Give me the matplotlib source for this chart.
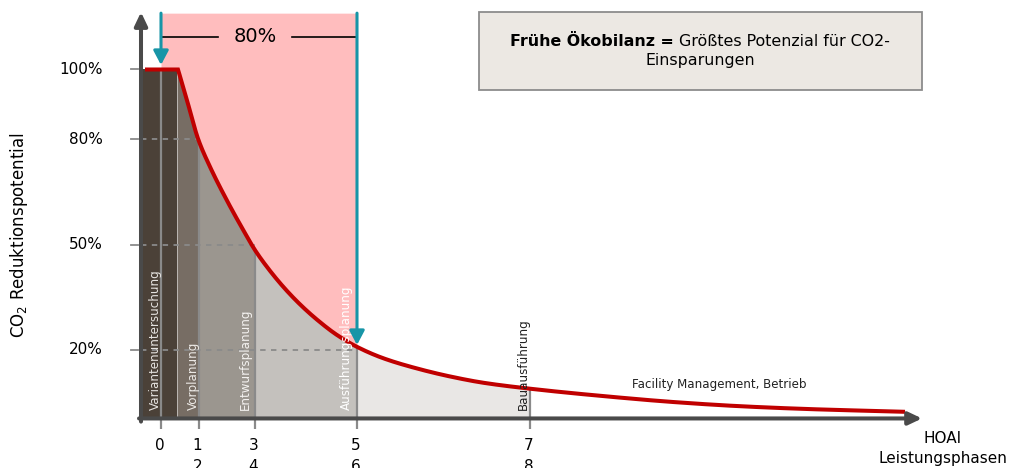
import numpy as np
import matplotlib
matplotlib.use("Agg")
import matplotlib.pyplot as plt
from matplotlib.patches import Rectangle

# Projektverlauf (horizontal) und CO2-Reduktionspotential in Prozent
curve_x = [4, 37, 45.7, 57.3, 69, 85.7, 102.3, 114, 125.7, 142.3, 159, 175.7,
           195.7, 215.7, 242.3, 275.7, 309, 342.3, 389, 465.7, 532, 599, 665.7, 764]
curve_v = [100, 100, 91.5, 80, 72.2, 62.7, 54.1, 48.4, 43.7, 37.9, 32.9, 28.6,
           24.2, 20.8, 17.5, 14.6, 12.3, 10.5, 8.8, 6.6, 5.0, 3.8, 3.0, 2.2]

# HOAI-Leistungsphasen
phase_x = [20, 58, 114, 216, 389]
phase_labels = ["0", "1\n2", "3\n4", "5\n6", "7\n8"]
phase_names = ["Variantenuntersuchung", "Vorplanung", "Entwurfsplanung",
               "Ausführungsplanung", "Bauausführung"]
phase_name_x = [14, 52, 104, 205, 382]
phase_name_colors = ["#e6e3e0", "#ece9e6", "#f4f2f0", "#ffffff", "#222222"]

# Farbige Flächen unter der Kurve
band_edges = [0, 36, 58, 114, 216, 389]
band_colors = ["#4b4138", "#776d64", "#9b968f", "#c4c1bd", "#e9e7e5"]

y_ticks = [100, 80, 50, 20]
y_ticklabels = ["100%", "80%", "50%", "20%"]

span_start, span_end = 20, 216
span_label = "80%"

RED = "#c00000"
TEAL = "#1795a7"
AXIS = "#4a4a4a"
GRID = "#8a8a8a"


def pchip(x, y, xq):
    """Monotone kubische Hermite-Kurve (Fritsch-Carlson) durch die Stützpunkte."""
    x = np.asarray(x, float)
    y = np.asarray(y, float)
    h = np.diff(x)
    d = np.diff(y) / h
    m = np.zeros_like(y)
    for k in range(1, len(x) - 1):
        if d[k - 1] * d[k] > 0:
            w1 = 2 * h[k] + h[k - 1]
            w2 = h[k] + 2 * h[k - 1]
            m[k] = (w1 + w2) / (w1 / d[k - 1] + w2 / d[k])
    m[0] = d[0]
    m[-1] = d[-1]
    xq = np.asarray(xq, float)
    i = np.clip(np.searchsorted(x, xq) - 1, 0, len(x) - 2)
    t = (xq - x[i]) / h[i]
    h00 = (1 + 2 * t) * (1 - t) ** 2
    h10 = t * (1 - t) ** 2
    h01 = t ** 2 * (3 - 2 * t)
    h11 = t ** 2 * (t - 1)
    return h00 * y[i] + h10 * h[i] * m[i] + h01 * y[i + 1] + h11 * h[i] * m[i + 1]


def curve(xq):
    xq = np.asarray(xq, float)
    out = np.full_like(xq, 100.0)
    mask = xq > curve_x[1]
    out[mask] = pchip(curve_x[1:], curve_v[1:], xq[mask])
    return out


fig = plt.figure(figsize=(10.16, 4.68), dpi=100)
ax = fig.add_axes([0, 0, 1, 1])
ax.set_xlim(-141, 875)
ax.set_ylim(-13.857, 119.857)
ax.axis("off")

top = 116.1

# roter Bereich oberhalb der Kurve zwischen Phase 0 und Phase 5/6
xs = np.linspace(span_start, span_end, 400)
ax.fill_between(xs, curve(xs), top, color="#ffbdbe", lw=0, zorder=1)

# Flächen je Leistungsphase
for (x0, x1), col in zip(zip(band_edges[:-1], band_edges[1:]), band_colors):
    xx = np.linspace(x0, x1, 300)
    ax.fill_between(xx, 0, curve(xx), color=col, lw=0, zorder=2)

# gestrichelte Hilfslinien zu den Prozentmarken
for v, px in zip(y_ticks[1:], phase_x[1:4]):
    ax.plot([0, px], [v, v], color=GRID, lw=1.3, ls=(0, (3, 3)), zorder=3)

# vertikale Linien der Leistungsphasen
for i, px in enumerate(phase_x):
    ytop = float(curve([px])[0])
    ax.plot([px, px], [-2.6, ytop], color=GRID, lw=1.6, zorder=3,
            solid_capstyle="butt")

# Phasennamen
for name, nx, col in zip(phase_names, phase_name_x, phase_name_colors):
    ax.text(nx, 2.6, name, rotation=90, ha="center", va="bottom",
            fontsize=8.6, color=col, zorder=6)

# Kurve
xc = np.linspace(curve_x[0], curve_x[-1], 1500)
ax.plot(xc, curve(xc), color=RED, lw=2.9, zorder=5, solid_joinstyle="miter",
        solid_capstyle="butt")

# Pfeile für den 80%-Bereich
arrow_kw = dict(arrowstyle="-|>,head_length=0.85,head_width=0.45",
                color=TEAL, lw=2.2, shrinkA=0, shrinkB=0)
ax.annotate("", xy=(span_start, 101.3), xytext=(span_start, top),
            arrowprops=arrow_kw, zorder=7)
ax.annotate("", xy=(span_end, 21.3), xytext=(span_end, top),
            arrowprops=arrow_kw, zorder=7)
ax.plot([span_start + 1, 77], [109.3, 109.3], color="black", lw=1.2, zorder=6)
ax.plot([151, span_end - 1], [109.3, 109.3], color="black", lw=1.2, zorder=6)
ax.text((span_start + span_end) / 2 - 4, 109.3, span_label, ha="center",
        va="center", fontsize=14, color="black", zorder=6)

# Achsen mit Pfeilspitzen
axis_kw = dict(arrowstyle="-|>,head_length=0.8,head_width=0.38",
               color=AXIS, lw=2.9, shrinkA=0, shrinkB=0)
ax.annotate("", xy=(0, 116.4), xytext=(0, -0.6), arrowprops=axis_kw, zorder=8)
ax.annotate("", xy=(781, 0.3), xytext=(-2, 0.3), arrowprops=axis_kw, zorder=8)

# y-Achsenbeschriftung
for v, lab in zip(y_ticks, y_ticklabels):
    ax.plot([-10, -3], [v, v], color=GRID, lw=1.3, zorder=3)
    ax.text(-38, v, lab, ha="right", va="center", fontsize=11, color="black")
ax.text(-122, 52.7, "CO$_2$ Reduktionspotential", rotation=90, ha="center",
        va="center", fontsize=12, color="black")

# x-Achsenbeschriftung
for px, lab in zip(phase_x, phase_labels):
    ax.text(px - 1.5, -5.3, lab, ha="center", va="top", fontsize=11,
            linespacing=1.5, color="black")
ax.text(802, -3.4, "HOAI\nLeistungsphasen", ha="center", va="top",
        fontsize=11, linespacing=1.4, color="black")

ax.text(491, 10.1, "Facility Management, Betrieb", ha="left", va="center",
        fontsize=8.6, color="#222222", zorder=6)

# Infobox
ax.add_patch(Rectangle((338, 94.1), 443, 22.3, facecolor="#ece8e3",
                       edgecolor="#8c8c8c", lw=1.3, zorder=4))
t_bold = ax.text(0, 107.9, "Frühe Ökobilanz =", ha="left", va="center",
                 fontsize=11.4, fontweight="bold", zorder=6)
t_reg = ax.text(0, 107.9, " Größtes Potenzial für CO2-", ha="left",
                va="center", fontsize=11.4, zorder=6)
ax.text(559, 102.6, "Einsparungen", ha="center", va="center", fontsize=11.4,
        zorder=6)
fig.canvas.draw()
r = fig.canvas.get_renderer()
inv = ax.transData.inverted()
wb = t_bold.get_window_extent(r).width
wr = t_reg.get_window_extent(r).width
x0_disp = ax.transData.transform((559, 0))[0] - (wb + wr) / 2
xb = inv.transform((x0_disp, 0))[0]
xr = inv.transform((x0_disp + wb, 0))[0]
t_bold.set_x(xb)
t_reg.set_x(xr)

fig.savefig("out.png", dpi=100)
